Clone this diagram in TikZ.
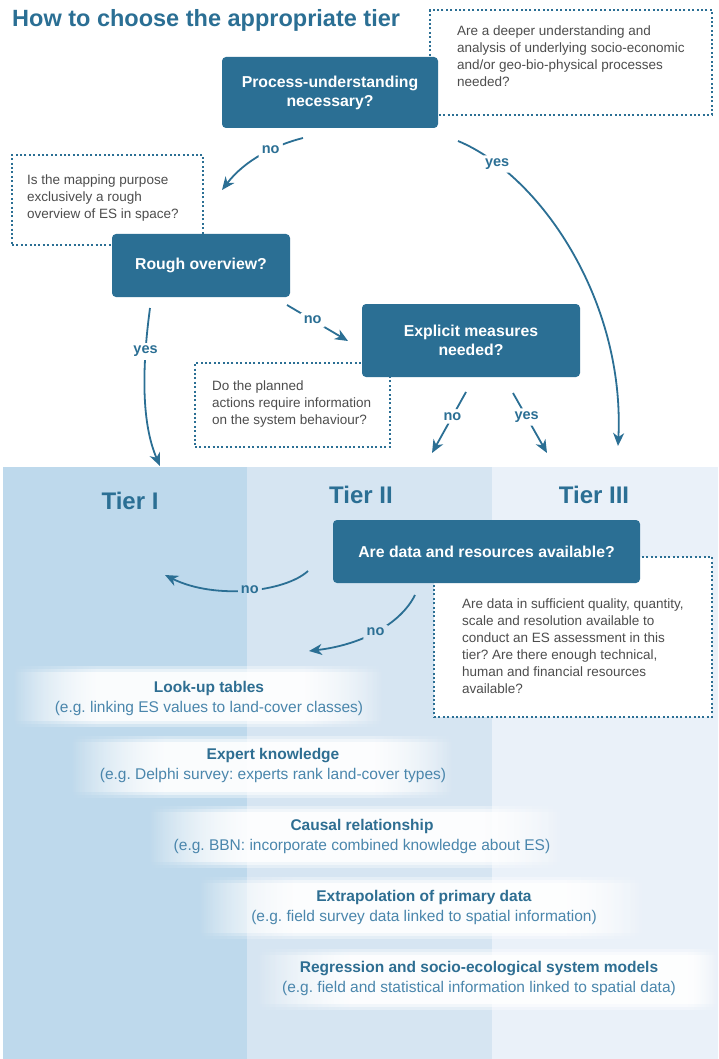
\documentclass[tikz,border=0pt]{standalone}
\usepackage{fontspec}
\setmainfont{Liberation Sans}
\usetikzlibrary{arrows.meta,fadings}
\definecolor{boxc}{HTML}{2B6F94}
\definecolor{titlec}{HTML}{2B6F94}
\definecolor{tierA}{HTML}{BED9EC}
\definecolor{tierB}{HTML}{D6E5F2}
\definecolor{tierC}{HTML}{EAF1F9}
\definecolor{qtext}{HTML}{4D4D4D}
\definecolor{mtitle}{HTML}{2E6E92}
\definecolor{msub}{HTML}{4A86AC}
\tikzfading[name=fadeL, left color=transparent!100, right color=transparent!0]
\tikzfading[name=fadeR, left color=transparent!0, right color=transparent!100]
\newcommand{\labarrow}[4]{%
  \path #1 node[lbl, pos=#2] (#4) {#3};
  \begin{scope}[even odd rule]
    \clip (0,0) rectangle (718,1059) (#4.south west) rectangle (#4.north east);
    \draw[arr] #1;
  \end{scope}}
\newcommand{\mlayer}[7]{%
  \fill[white, opacity=#7, path fading=fadeL] (#1,#3) rectangle ({#1+#5},#4);
  \fill[white, opacity=#7] ({#1+#5},#3) rectangle ({#2-#6},#4);
  \fill[white, opacity=#7, path fading=fadeR] ({#2-#6},#3) rectangle (#2,#4);}
\newcommand{\mband}[6]{%
  \mlayer{#1}{#2}{#3}{#4}{#5}{#6}{0.35}%
  \mlayer{#1}{#2}{#3+3}{#4-3}{#5}{#6}{0.5}%
  \mlayer{#1}{#2}{#3+6}{#4-6}{#5}{#6}{0.8}}
\begin{document}
\frenchspacing
\begin{tikzpicture}[x=1pt,y=-1pt,
  qbox/.style={fill=boxc, rounded corners=4pt, text=white, font=\bfseries\fontsize{15.8}{19}\selectfont, align=center, inner sep=0pt},
  dbox/.style={draw=boxc, line width=1.6pt, dash pattern=on 2pt off 2.4pt, fill=white, inner sep=0pt},
  dtext/.style={text=qtext, font=\fontsize{13.5}{17}\selectfont, align=left, inner sep=0pt, anchor=north west},
  lbl/.style={text=boxc, font=\bfseries\fontsize{14.5}{17}\selectfont, inner sep=3pt},
  arr/.style={draw=boxc, line width=1.8pt, -{Stealth[length=13pt,width=11pt,inset=4pt]}},
  tiertext/.style={text=titlec, font=\bfseries\fontsize{24}{28}\selectfont},
  mtext/.style={text=mtitle, font=\fontsize{15.5}{20}\selectfont, align=center, inner sep=0pt}]
\useasboundingbox (0,0) rectangle (718,1059);
\fill[white] (0,0) rectangle (718,1059);
% tier columns
\fill[tierA] (3,467) rectangle (247,1059);
\fill[tierB] (247,467) rectangle (492,1059);
\fill[tierC] (492,467) rectangle (718,1059);
% method bands
\mband{12}{384}{666}{727}{85}{80}
\mband{70}{454}{736}{798}{95}{80}
\mband{148}{564}{806}{868}{95}{80}
\mband{198}{646}{877}{939}{95}{80}
\mband{255}{718}{949}{1010}{95}{30}
% title
\node[anchor=base west, inner sep=0pt, text=titlec, font=\bfseries\fontsize{23.5}{28}\selectfont] (title) at (12,27) {How to choose the appropriate tier};
% tier labels
\node[tiertext] (t1) at (130,501) {Tier I};
\node[tiertext] (t2) at (361,495) {Tier II};
\node[tiertext] (t3) at (594,495) {Tier III};
% methods
\node[mtext] (m1) at (209,698) {\textbf{Look-up tables}\\\textcolor{msub}{(e.g. linking ES values to land-cover classes)}};
\node[mtext] (m2) at (273,765) {\textbf{Expert knowledge}\\\textcolor{msub}{(e.g. Delphi survey: experts rank land-cover types)}};
\node[mtext] (m3) at (362,836) {\textbf{Causal relationship}\\\textcolor{msub}{(e.g. BBN: incorporate combined knowledge about ES)}};
\node[mtext] (m4) at (424,907) {\textbf{Extrapolation of primary data}\\\textcolor{msub}{(e.g. field survey data linked to spatial information)}};
\node[mtext] (m5) at (479,978) {\textbf{Regression and socio-ecological system models}\\\textcolor{msub}{(e.g. field and statistical information linked to spatial data)}};
% dashed question boxes
\node[dbox, minimum width=282pt, minimum height=105pt] (qa) at (571,62.5) {};
\node[dtext] (qat) at (457,25.6) {Are a deeper understanding and\\analysis of underlying socio-economic\\and/or geo-bio-physical processes\\needed?};
\node[dbox, minimum width=191pt, minimum height=90pt] (qb) at (107.5,200) {};
\node[dtext] (qbt) at (27,174.6) {Is the mapping purpose\\exclusively a rough\\overview of ES in space?};
\node[dbox, minimum width=195pt, minimum height=84pt] (qc) at (292.5,405) {};
\node[dtext] (qct) at (212,380.6) {Do the planned\\actions require information\\on the system behaviour?};
\node[dbox, minimum width=278pt, minimum height=160pt] (qd) at (573,637) {};
\node[dtext] (qdt) at (462,598.6) {Are data in sufficient quality, quantity,\\scale and resolution available to\\conduct an ES assessment in this\\tier? Are there enough technical,\\human and financial resources\\available?};
% decision boxes
\node[qbox, minimum width=216pt, minimum height=71pt] (proc) at (330,92.5) {Process-understanding\\necessary?};
\node[qbox, minimum width=178pt, minimum height=63pt] (rough) at (201,265.5) {Rough overview?};
\node[qbox, minimum width=218pt, minimum height=73pt] (expl) at (471,340.5) {Explicit measures\\needed?};
\node[qbox, minimum width=307pt, minimum height=63pt] (data) at (486.5,551.5) {Are data and resources available?};
% connector end points
\coordinate (pnoS) at (303,138);
\coordinate (pnoE) at (222,190);
\coordinate (pyesS) at (458,141);
\coordinate (pyesE) at (618,446);
\coordinate (ryesS) at (150,308);
\coordinate (ryesE) at (160,466);
\coordinate (rnoS) at (287,305);
\coordinate (rnoE) at (348,341);
\coordinate (enoS) at (466,392);
\coordinate (enoE) at (432,453);
\coordinate (eyesS) at (513,393);
\coordinate (eyesE) at (547,453);
\coordinate (dnoAS) at (308,571);
\coordinate (dnoAE) at (165,575);
\coordinate (dnoBS) at (415,595);
\coordinate (dnoBE) at (309,651);
% connectors
\labarrow{(pnoS) .. controls (275,145) and (245,160) .. (pnoE)}{0.38}{no}{lpno}
\labarrow{(pyesS) .. controls (540,175) and (625,300) .. (pyesE)}{0.16}{yes}{lpyes}
\labarrow{(ryesS) .. controls (143,360) and (140,420) .. (ryesE)}{0.27}{yes}{lryes}
\labarrow{(rnoS) -- (rnoE)}{0.42}{no}{lrno}
\labarrow{(enoS) -- (enoE)}{0.4}{no}{leno}
\labarrow{(eyesS) -- (eyesE)}{0.4}{yes}{leyes}
\labarrow{(dnoAS) .. controls (285,592) and (215,600) .. (dnoAE)}{0.48}{no}{ldnoA}
\labarrow{(dnoBS) .. controls (400,625) and (360,645) .. (dnoBE)}{0.5}{no}{ldnoB}
\end{tikzpicture}
\end{document}
